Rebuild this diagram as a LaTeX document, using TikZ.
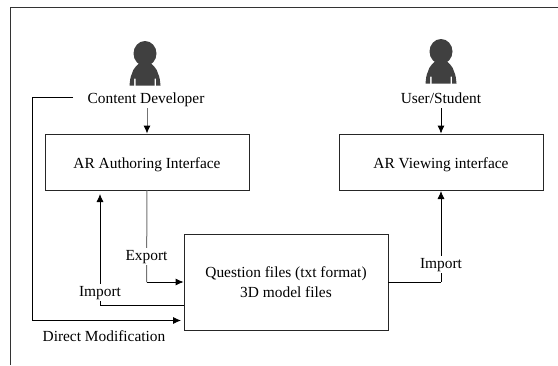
\documentclass[tikz,border=0pt]{standalone}
\usepackage{fontspec}
\setmainfont{Liberation Serif}
\usetikzlibrary{arrows.meta}
\tikzset{
  box/.style={draw=black!85,line width=0.8pt,minimum width=204pt,anchor=center,font=\fontsize{15.4pt}{19.5pt}\selectfont,align=center,fill=white},
  lab/.style={font=\fontsize{15.4pt}{17pt}\selectfont,fill=white,inner sep=2pt,anchor=base,text height=10.5pt,text depth=3pt},
  conn/.style={line width=0.8pt,black},
  gconn/.style={line width=1pt,black!55},
  arr/.style={-{Latex[length=8pt,width=7pt,black]}},
  person/.pic={
    \fill[black!75] (0,-12) circle [x radius=11.5,y radius=12.5];
    \fill[black!75] (-5,-3) -- (5,-3) .. controls (8,0) and (12,3) .. (13,8)
      .. controls (15,12) and (15,16) .. (15.5,20) -- (11,20) -- (11,13) -- (9.5,13) -- (9.5,20)
      -- (-9.5,20) -- (-9.5,13) -- (-11,13) -- (-11,20) -- (-15.5,20)
      .. controls (-15,16) and (-15,12) .. (-13,8) .. controls (-12,3) and (-8,0) .. (-5,-3) -- cycle;
  }
}
\begin{document}
\begin{tikzpicture}[x=1pt,y=-1pt]
\useasboundingbox (0,0) rectangle (558,365);
\fill[white] (0,0) rectangle (558,365);
\coordinate (frameA) at (10.5,365);
\coordinate (frameB) at (10.5,7.5);
\coordinate (frameC) at (558,7.5);
\draw[line width=0.8pt,black!80] (frameA) -- (frameB) -- (frameC);

\pic at (145,65.5) {person};
\pic at (441,63.5) {person};

\node[box,minimum height=56pt,text height=13pt,text depth=1pt] (author) at (147,162) {AR Authoring Interface};
\node[box,minimum height=56pt,text height=13pt,text depth=1pt] (viewer) at (441,162) {AR Viewing interface};
\node[box,minimum height=96pt] (files) at (286,282) {Question files (txt format)\\3D model files};

\node[lab] (dev) at (146,103) {Content Developer};
\node[lab] (user) at (441,103) {User/Student};

\coordinate (imA) at (100,305);
\coordinate (devout) at (73,97);
\coordinate (dmA) at (32,97);
\coordinate (dmB) at (32,320.5);
\coordinate (dmC) at (181,320.5);
\coordinate (exA) at (146.5,282);
\coordinate (irA) at (441,282);
\coordinate (imTop) at (100,194);
\coordinate (vTop) at (441,191);

% connectors
\draw[gconn,arr] (dev.south -| author.north) -- (author.north);
\draw[conn,arr] (user) -- (viewer);
\draw[conn] (devout) -- (dmA) -- (dmB);
\draw[conn,arr] (dmB) -- (dmC);
\draw[gconn] (author.south) -- (exA);
\draw[conn,arr] (exA) -- (exA -| files.west);
\draw[conn] (files.west |- imA) -- (imA);
\draw[conn,arr] (imA) -- (imTop);
\draw[conn] (files.east |- irA) -- (irA);
\draw[conn,arr] (irA) -- (vTop);

\node[lab] (export) at (146.5,260) {Export};
\node[lab] (importL) at (100,296) {Import};
\node[lab] (importR) at (441,268) {Import};
\node[lab,fill=none] (direct) at (104,341.5) {Direct Modification};
\end{tikzpicture}
\end{document}
